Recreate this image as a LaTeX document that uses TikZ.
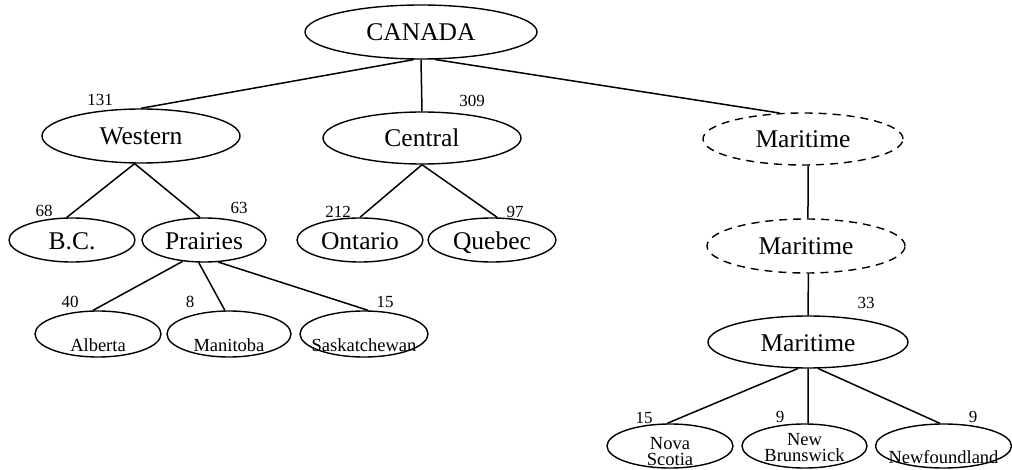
\documentclass[tikz,border=0pt]{standalone}
\usepackage{fontspec}
\setmainfont{Liberation Serif}
\usetikzlibrary{shapes.geometric}

% text placed with its baseline a given distance below the node centre
\newcommand{\ellabel}[2]{\raisebox{-#1}[0pt][0pt]{\makebox[0pt]{#2}}}

\tikzset{
  region/.style n args={2}{ellipse, draw, line width=1.4pt, inner sep=0pt,
    minimum width=#1, minimum height=#2},
  dashregion/.style={dash pattern=on 8pt off 6pt},
  bigtext/.style={font=\fontsize{25.5}{28}\selectfont},
  smalltext/.style={font=\fontsize{18.5}{20}\selectfont},
  count/.style={inner sep=0pt, font=\fontsize{17}{19}\selectfont},
  link/.style={line width=1.5pt}
}

\begin{document}
\begin{tikzpicture}[x=1pt,y=-1pt]
\useasboundingbox (0,0) rectangle (1012,470);

% country and regions
\node[region={232pt}{54pt}, bigtext] (canada) at (421,32) {\ellabel{9pt}{CANADA}};
\node[region={198pt}{54pt}, bigtext] (western) at (141,136) {\ellabel{9pt}{Western}};
\node[region={198pt}{52pt}, bigtext] (central) at (422,138) {\ellabel{9pt}{Central}};
\node[region={200pt}{52pt}, bigtext, dashregion] (marA) at (803,139) {\ellabel{9pt}{Maritime}};
\node[region={198pt}{54pt}, bigtext, dashregion] (marB) at (806,246) {\ellabel{9pt}{Maritime}};
\node[region={200pt}{52pt}, bigtext] (marC) at (808,342) {\ellabel{9pt}{Maritime}};

% provinces, second level
\node[region={126pt}{44pt}, bigtext] (bc) at (72,240) {\ellabel{9.5pt}{B.C.}};
\node[region={124pt}{44pt}, bigtext] (prairies) at (204,240) {\ellabel{9.5pt}{Prairies}};
\node[region={126pt}{44pt}, bigtext] (ontario) at (360,240) {\ellabel{9.5pt}{Ontario}};
\node[region={128pt}{44pt}, bigtext] (quebec) at (492,240) {\ellabel{9.5pt}{Quebec}};

% prairie provinces
\node[region={126pt}{46pt}, smalltext] (alberta) at (98,334) {\ellabel{17.5pt}{Alberta}};
\node[region={124pt}{46pt}, smalltext] (manitoba) at (229,334) {\ellabel{17.5pt}{Manitoba}};
\node[region={128pt}{46pt}, smalltext] (sask) at (364,334) {\ellabel{17.5pt}{Saskatchewan}};

% maritime provinces
\node[region={126pt}{44pt}, smalltext] (nova) at (670,446)
  {\ellabel{3pt}{Nova}\ellabel{19.5pt}{Scotia}};
\node[region={125pt}{44pt}, smalltext] (newb) at (804.5,446)
  {\ellabel{-1pt}{New}\ellabel{15.5pt}{Brunswick}};
\node[region={136pt}{44pt}, smalltext] (newf) at (943.5,446) {\ellabel{17pt}{Newfoundland}};

% tree links
\draw[link] (canada.255) -- (western.north);
\draw[link] (canada.south) -- (central.north);
\draw[link] (canada.297) -- (marA.132);
\draw[link] (western.257) -- (bc.103);
\draw[link] (western.257) -- (prairies.100);
\draw[link] (central.south) -- (ontario.north);
\draw[link] (central.south) -- (quebec.77);
\draw[link] (prairies.225) -- (alberta.102);
\draw[link] (prairies.257) -- (manitoba.100);
\draw[link] (prairies.303) -- (sask.80);
\draw[link] (marA.281) -- (marB.86);
\draw[link] (marB.275) -- (marC.north);
\draw[link] (marC.249) -- (nova.97);
\draw[link] (marC.south) -- (newb.81);
\draw[link] (marC.291) -- (newf.99);

% populations
\node[count] (n131) at (100,100) {131};
\node[count] (n309) at (472,101) {309};
\node[count] (n68) at (44,211) {68};
\node[count] (n63) at (239,208) {63};
\node[count] (n212) at (338,212) {212};
\node[count] (n97) at (515,212) {97};
\node[count] (n40) at (70,302) {40};
\node[count] (n8) at (190,302) {8};
\node[count] (n15a) at (385,302) {15};
\node[count] (n33) at (866,303) {33};
\node[count] (n15b) at (644,418) {15};
\node[count] (n9a) at (780,417) {9};
\node[count] (n9b) at (973,417) {9};
\end{tikzpicture}
\end{document}
